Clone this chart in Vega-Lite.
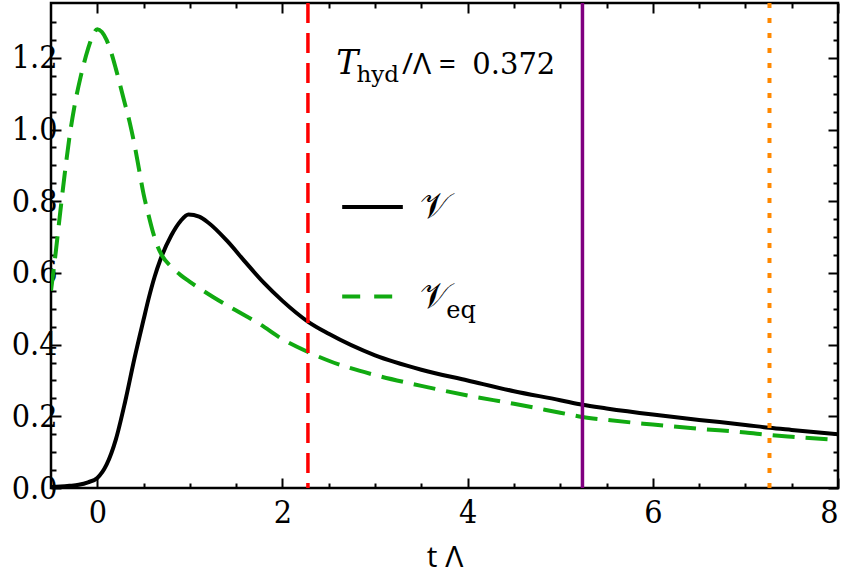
{
  "$schema": "https://vega.github.io/schema/vega-lite/v6.json",
  "autosize": "none",
  "width": 787,
  "height": 485,
  "padding": {"left": 51, "top": 3, "right": 10, "bottom": 90},
  "background": "white",
  "config": {
    "view": {"stroke": "black", "strokeWidth": 2.5},
    "axis": {"domain": false, "grid": false, "tickColor": "black", "tickWidth": 2, "labelFont": "DejaVu Serif Condensed", "labelFontSize": 32, "labelColor": "black"}
  },
  "datasets": {
    "curves": [
      {"t": -0.5, "v": 0.003, "s": "V"},
      {"t": -0.4, "v": 0.004, "s": "V"},
      {"t": -0.3, "v": 0.006, "s": "V"},
      {"t": -0.2, "v": 0.009, "s": "V"},
      {"t": -0.1, "v": 0.016, "s": "V"},
      {"t": 0.0, "v": 0.028, "s": "V"},
      {"t": 0.1, "v": 0.065, "s": "V"},
      {"t": 0.2, "v": 0.135, "s": "V"},
      {"t": 0.3, "v": 0.24, "s": "V"},
      {"t": 0.4, "v": 0.36, "s": "V"},
      {"t": 0.5, "v": 0.47, "s": "V"},
      {"t": 0.555, "v": 0.529, "s": "V"},
      {"t": 0.62, "v": 0.59, "s": "V"},
      {"t": 0.68, "v": 0.636, "s": "V"},
      {"t": 0.8, "v": 0.705, "s": "V"},
      {"t": 0.9, "v": 0.745, "s": "V"},
      {"t": 0.985, "v": 0.763, "s": "V"},
      {"t": 1.1, "v": 0.757, "s": "V"},
      {"t": 1.2, "v": 0.74, "s": "V"},
      {"t": 1.4, "v": 0.69, "s": "V"},
      {"t": 1.6, "v": 0.63, "s": "V"},
      {"t": 1.8, "v": 0.572, "s": "V"},
      {"t": 2.0, "v": 0.522, "s": "V"},
      {"t": 2.27, "v": 0.465, "s": "V"},
      {"t": 2.5, "v": 0.43, "s": "V"},
      {"t": 3.0, "v": 0.37, "s": "V"},
      {"t": 3.5, "v": 0.33, "s": "V"},
      {"t": 4.0, "v": 0.3, "s": "V"},
      {"t": 4.5, "v": 0.27, "s": "V"},
      {"t": 5.0, "v": 0.245, "s": "V"},
      {"t": 5.24, "v": 0.232, "s": "V"},
      {"t": 5.5, "v": 0.222, "s": "V"},
      {"t": 6.0, "v": 0.205, "s": "V"},
      {"t": 6.5, "v": 0.19, "s": "V"},
      {"t": 7.0, "v": 0.176, "s": "V"},
      {"t": 7.26, "v": 0.168, "s": "V"},
      {"t": 7.5, "v": 0.162, "s": "V"},
      {"t": 8.0, "v": 0.15, "s": "V"},
      {"t": -0.5, "v": 0.55, "s": "Veq"},
      {"t": -0.45, "v": 0.655, "s": "Veq"},
      {"t": -0.4, "v": 0.77, "s": "Veq"},
      {"t": -0.35, "v": 0.88, "s": "Veq"},
      {"t": -0.3, "v": 0.98, "s": "Veq"},
      {"t": -0.25, "v": 1.06, "s": "Veq"},
      {"t": -0.18, "v": 1.147, "s": "Veq"},
      {"t": -0.1, "v": 1.225, "s": "Veq"},
      {"t": -0.05, "v": 1.262, "s": "Veq"},
      {"t": 0.0, "v": 1.28, "s": "Veq"},
      {"t": 0.05, "v": 1.272, "s": "Veq"},
      {"t": 0.1, "v": 1.25, "s": "Veq"},
      {"t": 0.15, "v": 1.215, "s": "Veq"},
      {"t": 0.2, "v": 1.17, "s": "Veq"},
      {"t": 0.28, "v": 1.09, "s": "Veq"},
      {"t": 0.35, "v": 1.02, "s": "Veq"},
      {"t": 0.4, "v": 0.96, "s": "Veq"},
      {"t": 0.45, "v": 0.89, "s": "Veq"},
      {"t": 0.5, "v": 0.82, "s": "Veq"},
      {"t": 0.55, "v": 0.765, "s": "Veq"},
      {"t": 0.6, "v": 0.715, "s": "Veq"},
      {"t": 0.65, "v": 0.675, "s": "Veq"},
      {"t": 0.7, "v": 0.648, "s": "Veq"},
      {"t": 0.8, "v": 0.617, "s": "Veq"},
      {"t": 0.9, "v": 0.594, "s": "Veq"},
      {"t": 1.0, "v": 0.575, "s": "Veq"},
      {"t": 1.25, "v": 0.533, "s": "Veq"},
      {"t": 1.5, "v": 0.495, "s": "Veq"},
      {"t": 1.75, "v": 0.458, "s": "Veq"},
      {"t": 2.0, "v": 0.415, "s": "Veq"},
      {"t": 2.27, "v": 0.38, "s": "Veq"},
      {"t": 2.5, "v": 0.355, "s": "Veq"},
      {"t": 3.0, "v": 0.315, "s": "Veq"},
      {"t": 3.5, "v": 0.285, "s": "Veq"},
      {"t": 4.0, "v": 0.258, "s": "Veq"},
      {"t": 4.5, "v": 0.235, "s": "Veq"},
      {"t": 5.0, "v": 0.21, "s": "Veq"},
      {"t": 5.24, "v": 0.198, "s": "Veq"},
      {"t": 5.5, "v": 0.19, "s": "Veq"},
      {"t": 6.0, "v": 0.177, "s": "Veq"},
      {"t": 6.5, "v": 0.165, "s": "Veq"},
      {"t": 7.0, "v": 0.155, "s": "Veq"},
      {"t": 7.26, "v": 0.148, "s": "Veq"},
      {"t": 7.5, "v": 0.143, "s": "Veq"},
      {"t": 8.0, "v": 0.134, "s": "Veq"}
    ],
    "markers": [
      {"name": "red", "t": 2.275},
      {"name": "purple", "t": 5.24},
      {"name": "orange", "t": 7.26}
    ],
    "legend": [
      {"s": "V", "t1": 2.645, "t2": 3.3, "v": 0.784, "lx": 3.49, "label": "𝒱", "sx": 3.77, "sv": 0.6, "sub": ""},
      {"s": "Veq", "t1": 2.645, "t2": 3.3, "v": 0.534, "lx": 3.49, "label": "𝒱", "sx": 3.77, "sv": 0.474, "sub": "eq"}
    ],
    "annot": [
      {"x": 2.58, "y": 1.155, "txt": "T", "k": "a"},
      {"x": 2.8, "y": 1.133, "txt": "hyd", "k": "b"},
      {"x": 3.29, "y": 1.155, "txt": "/Λ =", "k": "c"},
      {"x": 4.05, "y": 1.155, "txt": "0.372", "k": "d"}
    ]
  },
  "layer": [
    {
      "data": {"name": "curves"},
      "transform": [{"filter": "datum.s === 'V'"}],
      "mark": {"type": "line", "color": "black", "strokeWidth": 4, "interpolate": "monotone", "clip": true},
      "encoding": {
        "x": {"field": "t", "type": "quantitative", "scale": {"domain": [-0.5, 8], "nice": false, "zero": false},
          "axis": {"orient": "bottom", "values": [0, 2, 4, 6, 8], "tickSize": -10, "labelPadding": 19, "title": "t Λ", "titleFont": "Open Sans", "titleFontSize": 30, "titleFontWeight": "normal", "titleColor": "black", "titlePadding": 14}},
        "y": {"field": "v", "type": "quantitative", "scale": {"domain": [0, 1.353], "nice": false},
          "axis": {"orient": "left", "values": [0, 0.2, 0.4, 0.6, 0.8, 1.0, 1.2], "format": ".1f", "tickSize": -10, "labelPadding": 4, "title": null}}
      }
    },
    {
      "data": {"name": "curves"},
      "transform": [{"filter": "datum.s === 'Veq'"}],
      "mark": {"type": "line", "color": "#11aa11", "strokeWidth": 4, "strokeDash": [22, 11], "interpolate": "monotone", "clip": true},
      "encoding": {
        "x": {"field": "t", "type": "quantitative",
          "axis": {"orient": "bottom", "values": [0.5, 1, 1.5, 2.5, 3, 3.5, 4.5, 5, 5.5, 6.5, 7, 7.5], "tickSize": -5, "labels": false, "title": null}},
        "y": {"field": "v", "type": "quantitative",
          "axis": {"orient": "left", "values": [0.05, 0.1, 0.15, 0.25, 0.3, 0.35, 0.45, 0.5, 0.55, 0.65, 0.7, 0.75, 0.85, 0.9, 0.95, 1.05, 1.1, 1.15, 1.25, 1.3], "tickSize": -5, "labels": false, "title": null}}
      }
    },
    {
      "data": {"name": "markers"},
      "transform": [{"filter": "datum.name === 'red'"}],
      "mark": {"type": "rule", "color": "#ff0000", "strokeWidth": 3.5, "strokeDash": [20, 10]},
      "encoding": {
        "x": {"field": "t", "type": "quantitative",
          "axis": {"orient": "top", "values": [0, 2, 4, 6, 8], "tickSize": -10, "labels": false, "title": null}}
      }
    },
    {
      "data": {"name": "markers"},
      "transform": [{"filter": "datum.name === 'purple'"}],
      "mark": {"type": "rule", "color": "#800080", "strokeWidth": 3.5},
      "encoding": {
        "x": {"field": "t", "type": "quantitative",
          "axis": {"orient": "top", "values": [0.5, 1, 1.5, 2.5, 3, 3.5, 4.5, 5, 5.5, 6.5, 7, 7.5], "tickSize": -5, "labels": false, "title": null}}
      }
    },
    {
      "data": {"name": "markers"},
      "transform": [{"filter": "datum.name === 'orange'"}],
      "mark": {"type": "rule", "color": "#ff8800", "strokeWidth": 4, "strokeDash": [5, 10]},
      "encoding": {
        "x": {"field": "t", "type": "quantitative", "axis": null}
      }
    },
    {
      "data": {"name": "legend"},
      "mark": {"type": "rule", "strokeWidth": 4},
      "encoding": {
        "x": {"field": "t1", "type": "quantitative", "axis": null},
        "x2": {"field": "t2"},
        "y": {"field": "v", "type": "quantitative",
          "axis": {"orient": "right", "values": [0, 0.2, 0.4, 0.6, 0.8, 1.0, 1.2], "tickSize": -10, "labels": false, "title": null}},
        "color": {"field": "s", "type": "nominal", "scale": {"domain": ["V", "Veq"], "range": ["black", "#11aa11"]}, "legend": null},
        "strokeDash": {"field": "s", "type": "nominal", "scale": {"domain": ["V", "Veq"], "range": [[1, 0], [18, 14]]}, "legend": null}
      }
    },
    {
      "data": {"name": "legend"},
      "mark": {"type": "text", "align": "left", "baseline": "middle", "fontSize": 36, "font": "DejaVu Serif", "color": "black"},
      "encoding": {
        "x": {"field": "lx", "type": "quantitative", "axis": null},
        "y": {"field": "v", "type": "quantitative",
          "axis": {"orient": "right", "values": [0.05, 0.1, 0.15, 0.25, 0.3, 0.35, 0.45, 0.5, 0.55, 0.65, 0.7, 0.75, 0.85, 0.9, 0.95, 1.05, 1.1, 1.15, 1.25, 1.3], "tickSize": -5, "labels": false, "title": null}},
        "text": {"field": "label"}
      }
    },
    {
      "data": {"name": "legend"},
      "mark": {"type": "text", "align": "left", "baseline": "alphabetic", "fontSize": 24, "font": "DejaVu Serif", "color": "black"},
      "encoding": {
        "x": {"field": "sx", "type": "quantitative", "axis": null},
        "y": {"field": "sv", "type": "quantitative", "axis": null},
        "text": {"field": "sub"}
      }
    },
    {
      "data": {"name": "annot"},
      "transform": [{"filter": "datum.k === 'a'"}],
      "mark": {"type": "text", "align": "left", "baseline": "alphabetic", "fontSize": 33, "font": "DejaVu Serif", "fontStyle": "italic", "color": "black"},
      "encoding": {
        "x": {"field": "x", "type": "quantitative", "axis": null},
        "y": {"field": "y", "type": "quantitative", "axis": null},
        "text": {"field": "txt"}
      }
    },
    {
      "data": {"name": "annot"},
      "transform": [{"filter": "datum.k === 'b'"}],
      "mark": {"type": "text", "align": "left", "baseline": "alphabetic", "fontSize": 23, "font": "DejaVu Serif", "color": "black"},
      "encoding": {
        "x": {"field": "x", "type": "quantitative", "axis": null},
        "y": {"field": "y", "type": "quantitative", "axis": null},
        "text": {"field": "txt"}
      }
    },
    {
      "data": {"name": "annot"},
      "transform": [{"filter": "datum.k === 'c'"}],
      "mark": {"type": "text", "align": "left", "baseline": "alphabetic", "fontSize": 30, "font": "Open Sans", "color": "black"},
      "encoding": {
        "x": {"field": "x", "type": "quantitative", "axis": null},
        "y": {"field": "y", "type": "quantitative", "axis": null},
        "text": {"field": "txt"}
      }
    },
    {
      "data": {"name": "annot"},
      "transform": [{"filter": "datum.k === 'd'"}],
      "mark": {"type": "text", "align": "left", "baseline": "alphabetic", "fontSize": 29, "font": "DejaVu Serif", "color": "black"},
      "encoding": {
        "x": {"field": "x", "type": "quantitative", "axis": null},
        "y": {"field": "y", "type": "quantitative", "axis": null},
        "text": {"field": "txt"}
      }
    }
  ],
  "resolve": {"axis": {"x": "independent", "y": "independent"}}
}
